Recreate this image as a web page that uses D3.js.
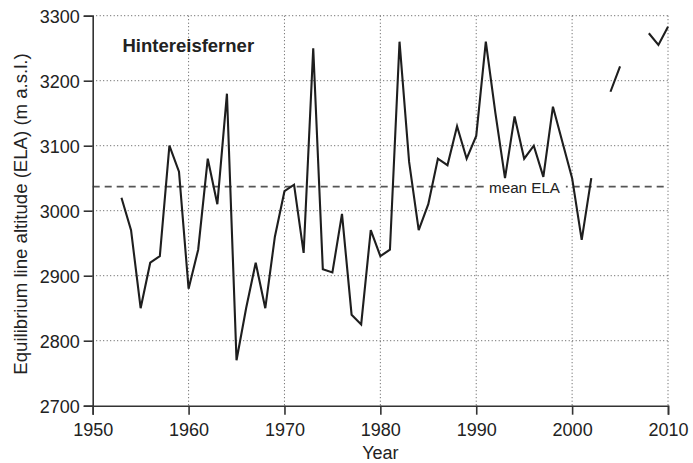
<!DOCTYPE html>
<meta charset="utf-8">
<script src="https://d3js.org/d3.v7.min.js"></script>
<style>
  body { margin: 0; background: #fff; }
  text { font-family: "Liberation Sans", Arial, sans-serif; fill: #222; }
</style>
<body>
<svg id="chart" width="693" height="463"></svg>
<script>
// ELA per year, null = no data
const years = d3.range(1953, 2011);
const ela = [
  3020, 2970, 2850, 2920, 2930, 3100, 3060, 2880, 2940, 3080,
  3010, 3180, 2770, 2850, 2920, 2850, 2960, 3030, 3040, 2935,
  3250, 2910, 2905, 2995, 2840, 2825, 2970, 2930, 2940, 3260,
  3075, 2970, 3010, 3080, 3070, 3130, 3080, 3115, 3260, 3150,
  3050, 3145, 3080, 3100, 3052, 3160, 3105, 3050, 2955, 3050,
  null, 3183, 3222, null, null, 3273, 3255, 3283
];
const meanEla = 3037;
const xTicks = [1950, 1960, 1970, 1980, 1990, 2000, 2010];
const yTicks = [2700, 2800, 2900, 3000, 3100, 3200, 3300];

const svg = d3.select("#chart");
const mLeft = 92.7, mRight = 668, mTop = 15.7, mBottom = 405.7;

const x = d3.scaleLinear().domain([1950, 2010]).range([mLeft, mRight]);
const y = d3.scaleLinear().domain([2700, 3300]).range([mBottom, mTop]);

// dotted grid
svg.append("g")
  .selectAll("line")
  .data(xTicks.slice(1))
  .join("line")
    .attr("x1", d => x(d)).attr("x2", d => x(d))
    .attr("y1", mTop).attr("y2", mBottom)
    .attr("stroke", "#555").attr("stroke-width", 1)
    .attr("stroke-dasharray", "1,2.5");
svg.append("g")
  .selectAll("line")
  .data(yTicks.slice(1))
  .join("line")
    .attr("x1", mLeft).attr("x2", mRight)
    .attr("y1", d => y(d)).attr("y2", d => y(d))
    .attr("stroke", "#555").attr("stroke-width", 1)
    .attr("stroke-dasharray", "1,2.5");

// mean ELA dashed line
svg.append("line")
  .attr("x1", mLeft).attr("x2", mRight)
  .attr("y1", y(meanEla)).attr("y2", y(meanEla))
  .attr("stroke", "#555").attr("stroke-width", 1.6)
  .attr("stroke-dasharray", "7,5");
const lbl = svg.append("text")
  .attr("x", 560).attr("y", y(meanEla) + 6.3)
  .attr("text-anchor", "end")
  .style("font-size", "15.2px")
  .text("mean ELA");
const bb = lbl.node().getBBox();
svg.insert("rect", "text")
  .attr("x", bb.x - 5).attr("y", y(meanEla) - 3)
  .attr("width", bb.width + 10).attr("height", 6)
  .attr("fill", "#fff");

// data line
const line = d3.line()
  .defined(d => d[1] != null)
  .x(d => x(d[0]))
  .y(d => y(d[1]));
svg.append("path")
  .datum(years.map((yr, i) => [yr, ela[i]]))
  .attr("d", line)
  .attr("fill", "none")
  .attr("stroke", "#1e1e1e")
  .attr("stroke-width", 2.1)
  .attr("stroke-linejoin", "miter");

// axes
const xAxis = svg.append("g")
  .attr("transform", `translate(0,${mBottom})`)
  .call(d3.axisBottom(x).tickValues(xTicks).tickFormat(d3.format("d")).tickSize(9).tickPadding(8.5));
const yAxis = svg.append("g")
  .attr("transform", `translate(${mLeft},0)`)
  .call(d3.axisLeft(y).tickValues(yTicks).tickFormat(d3.format("d")).tickSize(9).tickPadding(4));
[xAxis, yAxis].forEach(a => {
  a.select(".domain").attr("stroke", "#333").attr("stroke-width", 1.6);
  a.selectAll(".tick line").attr("stroke", "#333").attr("stroke-width", 1.6);
  a.selectAll("text").style("font-size", "18px").attr("fill", "#222");
});
yAxis.selectAll("text").attr("dy", "0.36em");

// labels
svg.append("text")
  .attr("x", x(1980)).attr("y", 458.5)
  .attr("text-anchor", "middle")
  .style("font-size", "18px")
  .text("Year");
svg.append("text")
  .attr("transform", `translate(26.5,214) rotate(-90)`)
  .attr("text-anchor", "middle")
  .style("font-size", "18.6px")
  .text("Equilibrium line altitude (ELA) (m a.s.l.)");
svg.append("text")
  .attr("x", 122.5).attr("y", 51.7)
  .style("font-size", "18.5px")
  .style("font-weight", "bold")
  .text("Hintereisferner");
</script>
</body>
